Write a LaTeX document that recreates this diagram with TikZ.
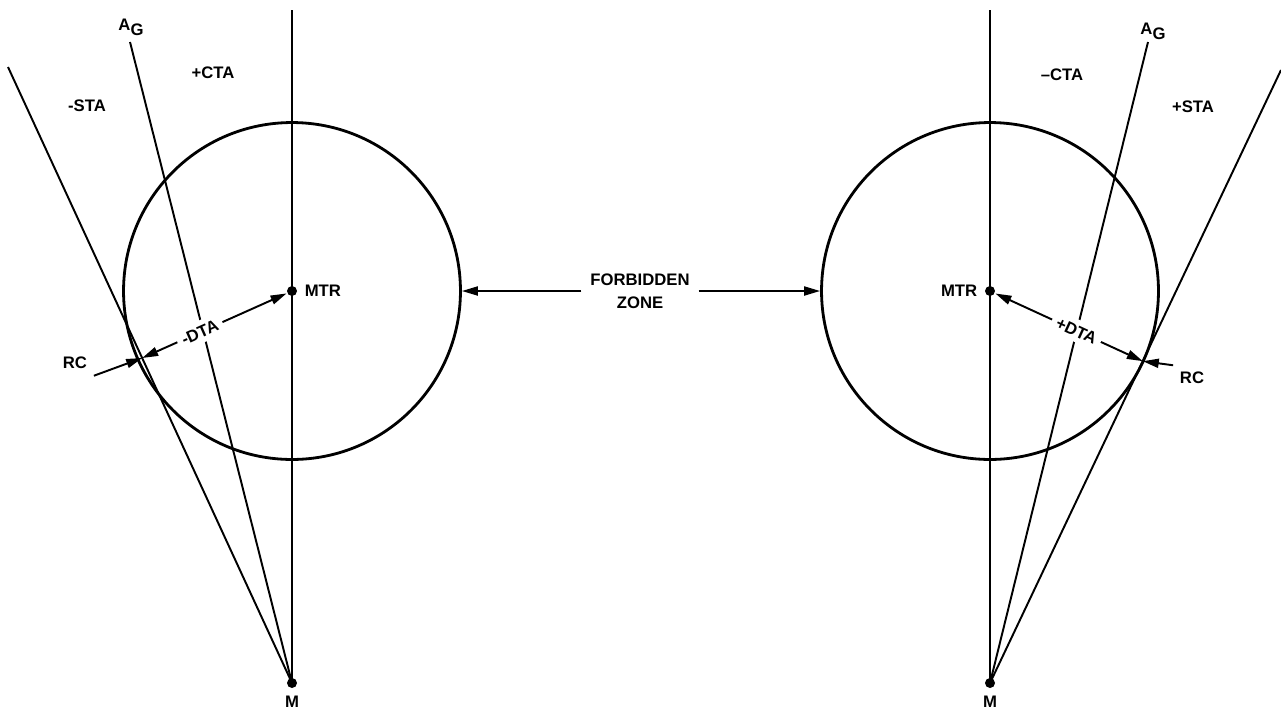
\documentclass[tikz,border=0pt]{standalone}
\usepackage{fontspec}
\setmainfont{Liberation Sans}
\usetikzlibrary{arrows.meta,calc}
\tikzset{
  dot/.style={circle,fill,inner sep=0pt,minimum size=0.2cm},
  zone/.style={circle,draw,line width=1.6pt,minimum size=6.74cm,inner sep=0pt},
  tip/.style={-{Triangle[length=0.32cm,width=0.18cm]}},
  dtip/.style={{Triangle[length=0.32cm,width=0.18cm]}-{Triangle[length=0.32cm,width=0.18cm]}},
  lbl/.style={font=\fontsize{9.5}{13}\selectfont\bfseries},
  gap/.style={lbl,sloped,fill=white,inner sep=3pt},
}
\newcommand{\ag}{A\raisebox{-0.6ex}{G}}
\begin{document}
\begin{tikzpicture}[x=0.02cm,y=-0.02cm,line width=1.1pt]
        \useasboundingbox (0,0) rectangle (1281,711);
        % left side
        \node[dot,label={[lbl]right:MTR}] (mtrL) at (292,291) {};
        \node[dot,label={[lbl,label distance=0pt]below:M}] (mL) at (292,683) {};
        \node[zone] (zoneL) at (mtrL) {};
        \coordinate (topL) at (292,10);
        \coordinate (agL) at (130,42);
        \coordinate (stL) at (8,67);
        \coordinate (rcL) at ($(mL.center)!0.5276!(stL)$);
        \draw (topL) -- (mL.center);
        \draw (agL) -- (mL.center);
        \draw (stL) -- (mL.center);
        \node[lbl] at (131,27) {\ag};
        \node[lbl] at (87,106) {-STA};
        \node[lbl] at (213,73) {+CTA};
        \node[lbl] (rcLlbl) at (75,363) {RC};
        \draw[tip] (rcLlbl.south east) -- (rcL);
        \draw[dtip] (rcL) -- node[gap,pos=0.4] {-DTA} (mtrL);
        % right side
        \node[dot,label={[lbl]left:MTR}] (mtrR) at (990,291) {};
        \node[dot,label={[lbl,label distance=0pt]below:M}] (mR) at (990,683) {};
        \node[zone] (zoneR) at (mtrR) {};
        \coordinate (topR) at (990,10);
        \coordinate (agR) at (1148,42);
        \coordinate (stR) at (1281,70);
        \coordinate (rcR) at ($(mR.center)!0.525!(stR)$);
        \draw (topR) -- (mR.center);
        \draw (agR) -- (mR.center);
        \draw (stR) -- (mR.center);
        \node[lbl] at (1153,31) {\ag};
        \node[lbl] at (1062,75) {--CTA};
        \node[lbl] at (1193,107) {+STA};
        \node[lbl] (rcRlbl) at (1192,378) {RC};
        \draw[tip] (rcRlbl.north west) -- (rcR);
        \draw[dtip] (mtrR) -- node[gap,pos=0.55] {+DTA} (rcR);
        % middle
        \node[lbl,align=center,inner sep=0.16cm] (fz) at (640,291) {FORBIDDEN\\ZONE};
        \draw[tip] (fz.west) -- (zoneL.east);
        \draw[tip] (fz.east) -- (zoneR.west);
      \end{tikzpicture}
\end{document}
